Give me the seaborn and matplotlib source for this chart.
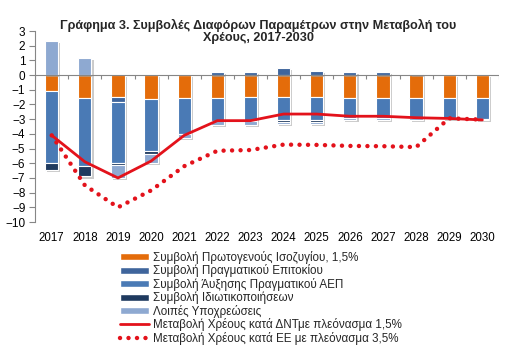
import numpy as np
import matplotlib
matplotlib.use("Agg")
import matplotlib.pyplot as plt
import matplotlib.patheffects as pe
from matplotlib.patches import Patch
from matplotlib.lines import Line2D
import seaborn as sns

sns.set_theme(style="white")
plt.rcParams["font.family"] = ["Liberation Sans", "DejaVu Sans"]

# values (% of GDP)
years = [str(y) for y in range(2017, 2031)]
primary = [-1.05, -1.55, -1.5, -1.6, -1.55, -1.55, -1.5, -1.5, -1.5, -1.55, -1.55, -1.55, -1.55, -1.55]
interest = [0.0, 0.0, -0.35, 0.0, 0.0, 0.24, 0.24, 0.49, 0.3, 0.24, 0.24, 0.08, 0.0, 0.0]
gdp = [-4.9, -4.65, -4.15, -3.55, -2.45, -1.6, -1.65, -1.55, -1.55, -1.35, -1.35, -1.35, -1.35, -1.43]
privat = [-0.5, -0.7, -0.15, -0.23, 0.0, 0.0, 0.0, -0.15, -0.15, 0.0, 0.0, 0.0, 0.0, -0.07]
other = [2.3, 1.15, -0.85, -0.6, -0.3, -0.27, -0.25, -0.1, -0.1, -0.15, -0.15, -0.15, -0.1, 0.0]
debt_imf = [-4.1, -5.9, -7.0, -5.85, -4.1, -3.1, -3.1, -2.65, -2.65, -2.8, -2.8, -2.9, -2.95, -3.05]
debt_eu = [-4.1, -7.5, -9.0, -7.85, -6.2, -5.15, -5.1, -4.73, -4.75, -4.82, -4.84, -4.9, -2.94, -3.03]

bar_labels = [
    "Συμβολή Πρωτογενούς Ισοζυγίου, 1,5%",
    "Συμβολή Πραγματικού Επιτοκίου",
    "Συμβολή Άυξησης Πραγματικού ΑΕΠ",
    "Συμβολή Ιδιωτικοποιήσεων",
    "Λοιπές Υποχρεώσεις",
]
line_labels = [
    "Μεταβολή Χρέους κατά ΔΝΤμε πλεόνασμα 1,5%",
    "Μεταβολή Χρέους κατά ΕΕ με πλεόνασμα 3,5%",
]
bar_colors = ["#E46C0A", "#3F659C", "#4A7AB5", "#1F3A5F", "#8EA9D1"]
red = "#E3121B"
grey = "#868686"

fig, ax = plt.subplots(figsize=(5.17, 3.61), dpi=100)
fig.subplots_adjust(left=0.068, right=0.965, top=0.914, bottom=0.385)

# stacked bars, positives and negatives stacked separately like Excel does
pos_base = np.zeros(len(years))
neg_base = np.zeros(len(years))
shadow = [pe.SimplePatchShadow(offset=(1.5, -1.5), shadow_rgbFace="#999999", alpha=0.5), pe.Normal()]
for vals, col in zip([primary, interest, gdp, privat, other], bar_colors):
    vals = np.array(vals)
    base = np.where(vals >= 0, pos_base, neg_base)
    sns.barplot(x=years, y=vals, bottom=base, color=col, width=0.4, errorbar=None,
                edgecolor="white", linewidth=0.8, saturation=1, ax=ax)
    pos_base += np.clip(vals, 0, None)
    neg_base += np.clip(vals, None, 0)
for p in ax.patches:
    p.set_path_effects(shadow)

pos = np.arange(len(years))
sns.lineplot(x=pos, y=debt_imf, color=red, linewidth=2, ax=ax)
sns.lineplot(x=pos, y=debt_eu, color=red, linewidth=3.2, linestyle=(0, (0.01, 1.9)),
             dash_capstyle="round", ax=ax)

# axes styling
ax.set_xlim(-0.5, len(years) - 0.5)
ax.set_ylim(-10, 3)
ax.set_yticks(range(-10, 4))
ax.set_xticks(pos)
ax.set_xticklabels(years)
for s in ["top", "right", "bottom"]:
    ax.spines[s].set_visible(False)
ax.spines["left"].set_color(grey)
ax.spines["left"].set_linewidth(0.8)
ax.axhline(0, color=grey, linewidth=0.8, zorder=1.5)
ax.vlines(np.arange(len(years) + 1) - 0.5, -0.25, 0, color=grey, linewidth=0.8, zorder=1.5)
ax.tick_params(axis="y", left=True, length=4, width=0.8, color=grey, pad=3,
               labelsize=8.5, labelcolor="black")
ax.tick_params(axis="x", length=0, pad=7, labelsize=8.3, labelcolor="black")
ax.set_xlabel("")
ax.set_ylabel("")

fig.suptitle("Γράφημα 3. Συμβολές Διαφόρων Παραμέτρων στην Μεταβολή του\nΧρέους, 2017-2030",
             fontsize=9.1, fontweight="bold", y=0.947, linespacing=1.0)

handles = [Patch(facecolor=c, edgecolor="white") for c in bar_colors]
handles += [Line2D([], [], color=red, linewidth=2),
            Line2D([], [], color=red, linewidth=3.2, linestyle=(0, (0.01, 1.9)),
                   dash_capstyle="round")]
fig.legend(handles, bar_labels + line_labels, loc="upper left",
           bbox_to_anchor=(0.232, 0.305), frameon=False, fontsize=8.4,
           handlelength=2.45, handleheight=0.55, handletextpad=0.4,
           labelspacing=0.05, borderaxespad=0, borderpad=0)

fig.savefig("out.png", dpi=100)
